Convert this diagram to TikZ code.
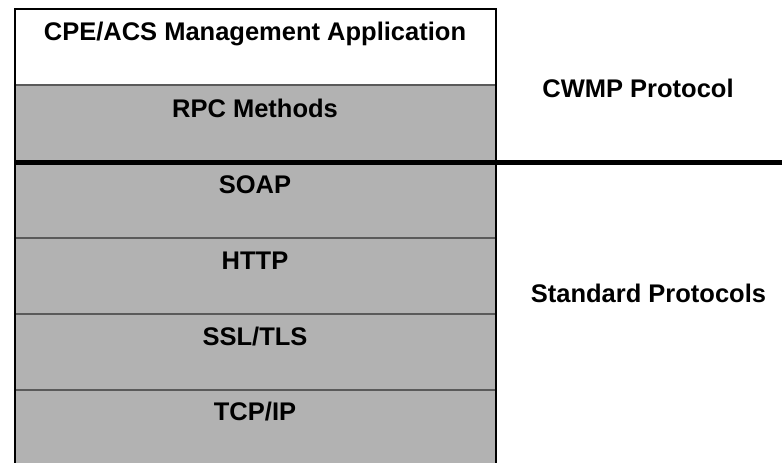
\documentclass[tikz,border=0pt]{standalone}
\usepackage{fontspec}
\setmainfont{Liberation Sans}
\usepackage{tikz}

\definecolor{layergray}{RGB}{178,178,178}
\definecolor{sepgray}{RGB}{90,90,90}

\tikzset{
  layer/.style={fill=layergray},
  sep/.style={draw=sepgray, line width=1.6pt},
  lbl/.style={anchor=base, inner sep=0pt, font=\fontsize{25.5}{30}\selectfont\bfseries}
}

\begin{document}
\begin{tikzpicture}[x=1pt, y=-1pt]
				\useasboundingbox (0,0) rectangle (782,463);
				
				% layers
				\path [fill=white] (15,8.7) rectangle (495.7,85);
				\path [layer] (15,85) rectangle (495.7,463);
				
				% separators between layers
				\draw [sep] (15,85) -- (495.7,85);
				\draw [sep] (15,238) -- (495.7,238);
				\draw [sep] (15,314) -- (495.7,314);
				\draw [sep] (15,390) -- (495.7,390);
				
				% outer border
				\draw [line width=2pt] (15,464) -- (15,8.7) -- (495.7,8.7) -- (495.7,464);
				
				% CWMP / standard split
				\draw [line width=5pt] (15,162.3) -- (782,162.3);
				
				\node [lbl] (app) at (255,40.7) {CPE/ACS Management Application};
				\node [lbl] (rpc) at (255,117) {RPC Methods};
				\node [lbl] (soap) at (255,193) {SOAP};
				\node [lbl] (http) at (255,269) {HTTP};
				\node [lbl] (ssl) at (255,345) {SSL/TLS};
				\node [lbl] (tcp) at (255,420) {TCP/IP};
				
				\node [lbl] (cwmp) at (638,97) {CWMP Protocol};
				\node [lbl] (std) at (648.5,302) {Standard Protocols};
\end{tikzpicture}
\end{document}
